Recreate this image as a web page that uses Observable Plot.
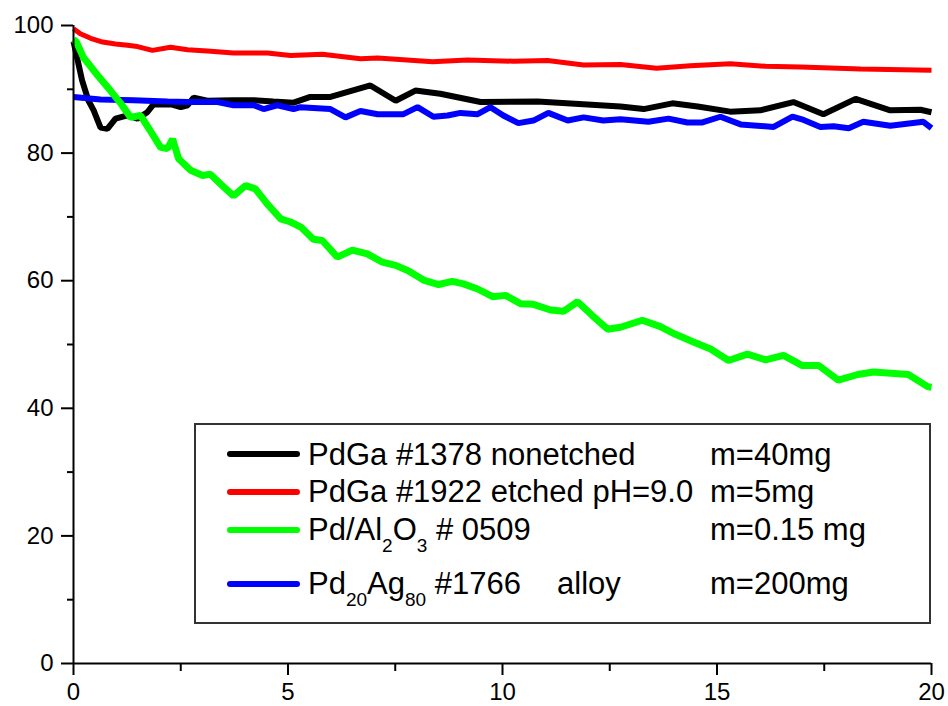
<!DOCTYPE html>
<html>
<head>
<meta charset="utf-8">
<script src="https://cdn.jsdelivr.net/npm/d3@7"></script>
<script src="https://cdn.jsdelivr.net/npm/@observablehq/plot@0.6"></script>
<style>
  html, body { margin: 0; padding: 0; background: #fff; }
  #wrap { position: relative; width: 948px; height: 706px; font-family: "Liberation Sans", Arial, sans-serif; color: #000; }
  #wrap svg { display: block; overflow: visible; }
  .lg-box { position: absolute; left: 194px; top: 423px; width: 737px; height: 201px; border: 2px solid #333; box-sizing: border-box; }
  .sw { position: absolute; left: 227px; width: 73px; height: 6px; border-radius: 3px; }
  .tx { position: absolute; font-size: 31px; line-height: 31px; white-space: pre; }
  .sb { font-size: 19px; position: relative; top: 12px; }
</style>
</head>
<body>
<div id="wrap"></div>
<script>
// ---- data ----
const seriesNames = [
  "PdGa #1378 nonetched",
  "PdGa #1922 etched pH=9.0",
  "Pd/Al2O3 # 0509",
  "Pd20Ag80 #1766 alloy"
];
const seriesMass = ["m=40mg", "m=5mg", "m=0.15 mg", "m=200mg"];
const seriesColors = ["#000000", "#ff0000", "#00ff00", "#0000ff"];

const blackX = [0, 0.2, 0.35, 0.47, 0.63, 0.79, 0.98, 1.26, 1.49, 1.72, 1.86, 2.3, 2.5, 2.66, 2.8, 3.12, 3.73, 4.2, 4.66, 5.13, 5.52, 5.99, 6.92, 7.51, 7.97, 8.55, 9.49, 10.82, 12.75, 13.29, 13.96, 14.55, 15.31, 16.01, 16.78, 17.48, 18.23, 19.04, 19.74, 20];
const blackY = [97.5, 91.4, 88.2, 86.7, 84.0, 83.8, 85.4, 85.9, 85.4, 86.4, 87.6, 87.6, 87.2, 87.5, 88.7, 88.2, 88.3, 88.3, 88.1, 87.9, 88.8, 88.8, 90.6, 88.2, 89.8, 89.3, 88.0, 88.1, 87.3, 86.9, 87.8, 87.3, 86.5, 86.7, 88.0, 86.1, 88.5, 86.7, 86.8, 86.4];

const redX = [0, 0.16, 0.40, 0.68, 0.98, 1.26, 1.49, 1.84, 2.26, 2.66, 3.12, 3.73, 4.52, 5.06, 5.80, 6.69, 7.09, 8.37, 9.18, 10.26, 11.05, 11.89, 12.75, 13.59, 14.38, 15.31, 16.13, 16.95, 18.35, 20];
const redY = [99.5, 98.7, 98.0, 97.4, 97.1, 96.9, 96.7, 96.1, 96.6, 96.2, 96.0, 95.7, 95.7, 95.3, 95.5, 94.8, 94.9, 94.3, 94.6, 94.4, 94.5, 93.8, 93.9, 93.3, 93.7, 94.0, 93.6, 93.5, 93.2, 93.0];

const greenX = [0, 0.07, 0.23, 0.56, 0.86, 1.10, 1.33, 1.56, 1.79, 2.03, 2.19, 2.31, 2.45, 2.73, 3.01, 3.19, 3.50, 3.73, 4.01, 4.24, 4.52, 4.83, 5.06, 5.30, 5.59, 5.80, 6.15, 6.50, 6.85, 7.20, 7.51, 7.79, 8.16, 8.51, 8.83, 9.09, 9.42, 9.77, 10.07, 10.42, 10.72, 11.12, 11.42, 11.75, 12.10, 12.45, 12.75, 13.26, 13.68, 14.03, 14.45, 14.85, 15.27, 15.71, 16.13, 16.55, 16.99, 17.37, 17.83, 18.28, 18.65, 19.46, 19.91, 20];
const greenY = [97.8, 97.4, 95.0, 92.2, 89.8, 87.8, 85.6, 85.9, 83.5, 80.9, 80.7, 82.2, 79.1, 77.3, 76.5, 76.7, 74.7, 73.3, 74.9, 74.4, 72.0, 69.7, 69.2, 68.4, 66.5, 66.3, 63.7, 64.8, 64.2, 62.9, 62.4, 61.6, 60.1, 59.4, 59.9, 59.5, 58.7, 57.5, 57.7, 56.4, 56.3, 55.4, 55.2, 56.7, 54.5, 52.4, 52.7, 53.8, 52.8, 51.6, 50.4, 49.3, 47.5, 48.5, 47.6, 48.3, 46.7, 46.7, 44.4, 45.3, 45.7, 45.3, 43.4, 43.3];

const blueX = [0, 0.63, 1.40, 2.19, 2.66, 3.36, 3.73, 4.2, 4.43, 4.75, 5.13, 5.29, 5.99, 6.34, 6.69, 7.09, 7.69, 8.02, 8.39, 8.72, 9.02, 9.42, 9.72, 10.02, 10.37, 10.72, 11.07, 11.52, 11.89, 12.35, 12.75, 13.40, 13.87, 14.31, 14.66, 15.08, 15.55, 16.32, 16.76, 17.02, 17.41, 17.72, 18.07, 18.41, 19.04, 19.81, 20];
const blueY = [88.8, 88.4, 88.3, 88.1, 88.0, 88.0, 87.5, 87.5, 86.9, 87.5, 86.9, 87.2, 86.9, 85.6, 86.6, 86.1, 86.1, 87.2, 85.7, 85.9, 86.3, 86.1, 87.2, 85.9, 84.7, 85.1, 86.3, 85.1, 85.6, 85.1, 85.3, 84.9, 85.4, 84.8, 84.8, 85.7, 84.5, 84.1, 85.7, 85.2, 84.1, 84.2, 83.9, 84.9, 84.3, 84.9, 83.9];

const xMajorTicks = [0, 5, 10, 15, 20];
const xMinorTicks = [2.5, 7.5, 12.5, 17.5];
const yMajorTicks = [0, 20, 40, 60, 80, 100];
const yMinorTicks = [10, 30, 50, 70, 90];

// ---- build tables ----
const toRows = (xs, ys) => xs.map((x, i) => ({x, y: ys[i]}));
const black = toRows(blackX, blackY);
const red = toRows(redX, redY);
const green = toRows(greenX, greenY);
const blue = toRows(blueX, blueY);

const chart = Plot.plot({
  width: 948,
  height: 706,
  marginLeft: 73,
  marginRight: 17,
  marginTop: 25,
  marginBottom: 43,
  style: {fontFamily: '"Liberation Sans", Arial, sans-serif', color: "#000", background: "#fff"},
  x: {domain: [0, 20]},
  y: {domain: [0, 100]},
  marks: [
    Plot.axisX(xMajorTicks, {tickSize: 12, tickPadding: 7, fontSize: 24, strokeWidth: 2, label: null, tickFormat: d => String(d)}),
    Plot.axisX(xMinorTicks, {tickSize: 8, strokeWidth: 2, label: null, tickFormat: () => ""}),
    Plot.axisY(yMajorTicks, {tickSize: 12, tickPadding: 8, fontSize: 24, strokeWidth: 2, label: null, tickFormat: d => String(d)}),
    Plot.axisY(yMinorTicks, {tickSize: 6, strokeWidth: 2, label: null, tickFormat: () => ""}),
    Plot.line(black, {x: "x", y: "y", stroke: seriesColors[0], strokeWidth: 6, strokeLinejoin: "miter", strokeLinecap: "butt"}),
    Plot.line(red, {x: "x", y: "y", stroke: seriesColors[1], strokeWidth: 5, strokeLinejoin: "miter", strokeLinecap: "butt"}),
    Plot.line(blue, {x: "x", y: "y", stroke: seriesColors[3], strokeWidth: 6, strokeLinejoin: "miter", strokeLinecap: "butt"}),
    Plot.line(green, {x: "x", y: "y", stroke: seriesColors[2], strokeWidth: 7, strokeLinejoin: "miter", strokeLinecap: "butt"}),
    Plot.ruleX([0], {stroke: "#000", strokeWidth: 2}),
    Plot.ruleY([0], {stroke: "#000", strokeWidth: 2})
  ]
});

const wrap = document.getElementById("wrap");
wrap.appendChild(chart);

// ---- legend (HTML overlay so that subscripts stay real text) ----
const box = document.createElement("div");
box.className = "lg-box";
wrap.appendChild(box);

const rowLineY = [454, 492, 530, 584];
const rowTextTop = [439, 476, 514, 568];
const labelsHtml = [
  "PdGa #1378 nonetched",
  "PdGa #1922 etched pH=9.0",
  'Pd/Al<span class="sb">2</span>O<span class="sb">3</span> # 0509',
  'Pd<span class="sb">20</span>Ag<span class="sb">80</span> #1766'
];
seriesColors.forEach((c, i) => {
  const sw = document.createElement("div");
  sw.className = "sw";
  sw.style.top = (rowLineY[i] - 3) + "px";
  sw.style.background = c;
  wrap.appendChild(sw);

  const t = document.createElement("div");
  t.className = "tx";
  t.style.left = "308px";
  t.style.top = rowTextTop[i] + "px";
  t.innerHTML = labelsHtml[i];
  wrap.appendChild(t);

  const m = document.createElement("div");
  m.className = "tx";
  m.style.left = "710px";
  m.style.top = rowTextTop[i] + "px";
  m.textContent = seriesMass[i];
  wrap.appendChild(m);
});
const alloy = document.createElement("div");
alloy.className = "tx";
alloy.style.left = "557px";
alloy.style.top = rowTextTop[3] + "px";
alloy.textContent = "alloy";
wrap.appendChild(alloy);
</script>
</body>
</html>
